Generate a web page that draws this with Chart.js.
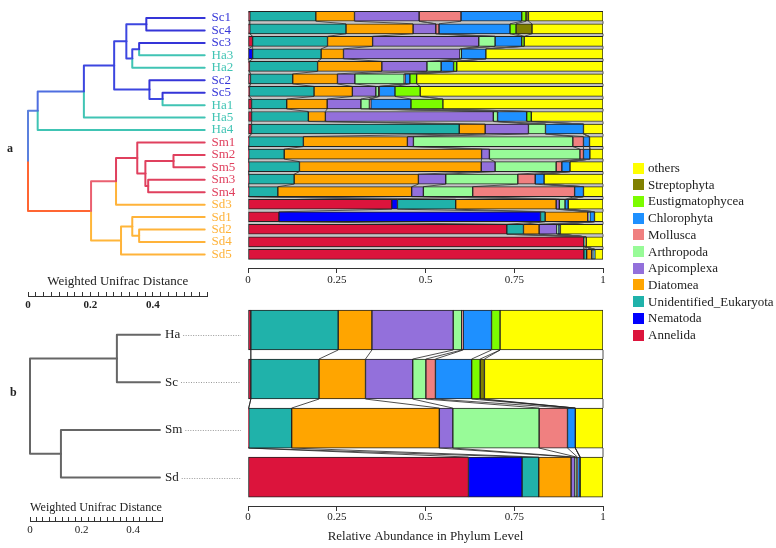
<!DOCTYPE html>
<html><head><meta charset="utf-8">
<script src="https://cdn.jsdelivr.net/npm/chart.js@4"></script>
<style>
html,body{margin:0;padding:0;background:#fff;}
body{width:776px;height:548px;position:relative;overflow:hidden;font-family:'Liberation Serif','Times New Roman',serif;color:#222;}
canvas{position:absolute;}
.lab{position:absolute;font-weight:bold;font-size:12px;}
#legend{position:absolute;left:633px;top:0;}
.li{position:absolute;left:0;height:16px;line-height:16px;white-space:nowrap;font-size:13px;color:#222;}
.sw{position:absolute;left:0;top:2.5px;width:11px;height:11px;}
.lt{position:absolute;left:15px;top:0;}
</style></head><body>
<canvas id="dendA" width="245" height="320" style="left:0;top:0"></canvas>
<canvas id="barA" width="380" height="300" style="left:238px;top:0"></canvas>
<canvas id="dendB" width="245" height="248" style="left:0;top:300px"></canvas>
<canvas id="barB" width="380" height="248" style="left:238px;top:300px"></canvas>
<div class="lab" style="left:7px;top:141px">a</div>
<div class="lab" style="left:10px;top:385px">b</div>
<div id="legend"></div>
<script>
// ---------- data ----------
const phyla = ['Annelida','Nematoda','Unidentified_Eukaryota','Diatomea','Apicomplexa','Arthropoda','Mollusca','Chlorophyta','Eustigmatophycea','Streptophyta','others'];
const phylumColors = ['#dc143c','#0000ff','#20b2aa','#ffa500','#9370db','#98fb98','#f08080','#1e90ff','#7cfc00','#808000','#ffff00'];

const samples = ['Sc1','Sc4','Sc3','Ha3','Ha2','Sc2','Sc5','Ha1','Ha5','Ha4','Sm1','Sm2','Sm5','Sm3','Sm4','Sd3','Sd1','Sd2','Sd4','Sd5'];
const sAnnelida   = [.005,.005,.013,0,.004,.007,.004,.01,.01,.01,.002,.002,.002,.002,.002,.405,.087,.729,.946,.946];
const sNematoda   = [0,0,0,.013,0,0,0,0,0,0,0,0,0,0,0,.016,.737,0,0,0];
const sUnidEuk    = [.186,.271,.211,.193,.192,.119,.182,.099,.16,.585,.154,.1,.143,.128,.082,.164,.013,.047,.003,.008];
const sDiatomea   = [.109,.189,.127,.063,.181,.126,.108,.114,.048,.073,.293,.556,.512,.35,.377,.283,.12,.044,.002,.014];
const sApicomplexa= [.182,.064,.299,.328,.127,.049,.066,.095,.473,.122,.017,.022,.039,.077,.033,.009,.003,.05,0,.002];
const sArthropoda = [0,0,.046,.004,.04,.139,.008,.024,.012,.048,.449,.255,.172,.203,.139,.016,.003,.004,0,.004];
const sMollusca   = [.118,.009,0,0,0,.002,.002,.004,0,0,.03,.01,.016,.049,.287,0,0,0,0,0];
const sChlorophyta= [.171,.2,.075,.069,.035,.014,.044,.113,.082,.107,.017,.018,.023,.025,.025,.009,.013,.004,0,.003];
const sEustig     = [.012,.017,.007,0,.009,.019,.071,.09,.013,0,0,0,0,0,0,0,0,0,0,0];
const sStrepto    = [.007,.045,0,0,0,0,0,0,0,0,0,0,0,0,0,0,0,.002,.002,0];
const sOthers     = [.21,.2,.222,.33,.412,.525,.515,.451,.202,.055,.038,.037,.093,.166,.055,.098,.024,.12,.047,.023];

const groups = ['Ha','Sc','Sm','Sd'];
const gAnnelida   = [.008,.008,.002,.621];
const gNematoda   = [0,0,0,.151];
const gUnidEuk    = [.246,.192,.121,.047];
const gDiatomea   = [.095,.131,.416,.091];
const gApicomplexa= [.229,.133,.038,.011];
const gArthropoda = [.024,.037,.243,.005];
const gMollusca   = [.004,.027,.08,.002];
const gChlorophyta= [.08,.102,.022,.007];
const gEustig     = [.024,.024,0,0];
const gStrepto    = [0,.012,0,.001];
const gOthers     = [.29,.334,.078,.064];

const abundTicks = [0, 0.25, 0.5, 0.75, 1];
const distLabelsA = [0, 0.2, 0.4];

// dendrogram merges: [childA, childB, node distance from root]
const treeALeafDepth = 0.566;
const treeAMerges = [
  ['Sc1','Sc4',0.379], ['Sc3','Ha3',0.356], ['m1','Ha2',0.334], ['m0','m2',0.315],
  ['Sc5','Ha1',0.431], ['Sc2','m4',0.389], ['m3','m5',0.276], ['m6','Ha5',0.179],
  ['m7','Ha4',0.031], ['Sm2','Sm5',0.466], ['Sm3','Sm4',0.385], ['m9','m10',0.376],
  ['Sm1','m11',0.35], ['m12','Sd3',0.282], ['Sd2','Sd4',0.356], ['Sd1','m14',0.334],
  ['m15','Sd5',0.298], ['m13','m16',0.202], ['m8','m17',0]
];
const treeAEdgeColors = {m0:'#3c46e0',m1:'#3c46e0',m2:'#3c46e0',m3:'#3c46e0',m4:'#3c46e0',m5:'#3c46e0',m6:'#3c46e0',
  m7:'#4f6ee0',m8:'#5b80dd',m9:'#e0405e',m10:'#e0405e',m11:'#e0405e',m12:'#e0405e',m13:'#ea6070',
  m14:'#ffb63a',m15:'#ffb63a',m16:'#ffb63a',m17:'#ff6633'};
const groupColors = {Sc:'#3535d8', Ha:'#40c4b4', Sm:'#e0405e', Sd:'#ffb33a'};

const treeBLeafDepth = 0.504;
const treeBMerges = [['Ha','Sc',0.337], ['Sm','Sd',0.12], ['m0','m1',0]];

// ---------- helpers ----------
Chart.defaults.font.family = "'Liberation Serif','Times New Roman',serif";
Chart.defaults.color = '#222';

function treeDatasets(leaves, merges, leafDepth, colorOf) {
  const nodes = {};
  leaves.forEach((n, i) => nodes[n] = {x: leafDepth, y: i});
  merges.forEach((m, k) => {
    const a = nodes[m[0]], b = nodes[m[1]];
    nodes['m' + k] = {x: m[2], y: (a.y + b.y) / 2};
  });
  const ds = [];
  merges.forEach((m, k) => {
    const p = nodes['m' + k];
    [m[0], m[1]].forEach(c => {
      const ch = nodes[c];
      ds.push({
        data: [{x: p.x, y: p.y}, {x: p.x, y: ch.y}, {x: ch.x, y: ch.y}],
        borderColor: colorOf(c), showLine: true, pointRadius: 0,
        borderWidth: 2, borderJoinStyle: 'round', borderCapStyle: 'round', fill: false, clip: false
      });
    });
  });
  return ds;
}

function barDatasets(series) {
  return series.map((vals, k) => ({
    label: phyla[k],
    data: vals.map((v, i) => ({x: v, y: i})),
    backgroundColor: phylumColors[k],
    borderColor: '#222', borderWidth: 1, borderSkipped: false, stack: 's'
  }));
}

const connectorPlugin = {
  id: 'connectors',
  beforeDatasetsDraw(chart, args, opts) {
    const metas = chart.getSortedVisibleDatasetMetas();
    if (!metas.length) return;
    const n = metas[0].data.length;
    const xs = chart.scales.x;
    const ctx = chart.ctx;
    ctx.save();
    for (let i = 0; i < n - 1; i++) {
      const a = metas[0].data[i], b = metas[0].data[i + 1];
      const y1 = a.y + a.height / 2, y2 = b.y - b.height / 2;
      if (opts.fill) {
        ctx.fillStyle = opts.fill;
        ctx.fillRect(xs.getPixelForValue(0), y1, xs.getPixelForValue(1) - xs.getPixelForValue(0), y2 - y1);
      }
      ctx.strokeStyle = opts.color; ctx.lineWidth = opts.width;
      ctx.beginPath();
      metas.forEach(m => {
        ctx.moveTo(m.data[i].x, y1); ctx.lineTo(m.data[i + 1].x, y2);
      });
      ctx.stroke();
    }
    ctx.restore();
  }
};

const leaderPlugin = {
  id: 'leaders',
  afterDraw(chart) {
    const ys = chart.scales.y, ctx = chart.ctx;
    ctx.save();
    ctx.font = "13px 'Liberation Serif'";
    ctx.strokeStyle = '#9a9a9a'; ctx.lineWidth = 1; ctx.setLineDash([1, 1.5]);
    ys.ticks.forEach((t, i) => {
      const y = Math.round(ys.getPixelForValue(t.value)) + 0.5;
      const x0 = chart.chartArea.right + 3 + ctx.measureText(groups[i]).width + 3;
      ctx.beginPath(); ctx.moveTo(x0, y); ctx.lineTo(chart.width - 4, y); ctx.stroke();
    });
    ctx.restore();
  }
};

function rulerScale(max, labels, bold, height) {
  return {
    type: 'linear', position: 'bottom', min: 0, max: max, weight: 1,
    grid: {display: true, drawOnChartArea: false, drawTicks: true, tickLength: -4, color: '#333', lineWidth: 1},
    border: {display: true, color: '#333', width: 1},
    ticks: {stepSize: 0.025, autoSkip: false, maxRotation: 0, padding: 6.4,
      font: {size: 11, weight: bold ? 'bold' : 'normal'}, color: '#222',
      callback: v => { const r = Math.round(v * 1000); return labels.some(l => Math.round(l * 1000) === r) ? String(+v.toFixed(1)) : ''; }},
    afterFit(s) { s.height = height; }
  };
}
function titleScale(max, height, pb) {
  return {
    type: 'linear', axis: 'x', position: 'bottom', min: 0, max: max, weight: 0,
    grid: {display: false, drawTicks: false}, border: {display: false}, ticks: {display: false},
    title: {display: true, text: 'Weighted Unifrac Distance', font: {size: 13}, color: '#222', padding: {top: 0, bottom: pb}},
    afterFit(s) { s.height = height; }
  };
}

// ---------- dendrogram a ----------
const leafColor = n => groupColors[n.slice(0, 2)];
new Chart(document.getElementById('dendA'), {
  type: 'scatter',
  data: {datasets: treeDatasets(samples, treeAMerges, treeALeafDepth, c => treeAEdgeColors[c] || leafColor(c))},
  options: {
    responsive: false, animation: false, events: [],
    layout: {padding: {left: 28, right: 0, top: 10, bottom: 0}},
    plugins: {legend: {display: false}, tooltip: {enabled: false}},
    scales: {
      x: rulerScale(0.575, distLabelsA, true, 24),
      xt: titleScale(0.575, 26, 6.2),
      y: {type: 'linear', position: 'right', reverse: true, min: -0.5, max: 20.25, offset: false,
        grid: {display: false, drawTicks: false}, border: {display: false},
        afterBuildTicks(s) { s.ticks = samples.map((_, i) => ({value: i})); },
        ticks: {autoSkip: false, padding: 4, font: {size: 13},
          callback: (v, i) => samples[i], color: ctx => leafColor(samples[ctx.index])},
        afterFit(s) { s.width = 37.5; }}
    }
  }
});

// ---------- bars a ----------
new Chart(document.getElementById('barA'), {
  type: 'bar',
  data: {datasets: barDatasets([sAnnelida,sNematoda,sUnidEuk,sDiatomea,sApicomplexa,sArthropoda,sMollusca,sChlorophyta,sEustig,sStrepto,sOthers])},
  plugins: [connectorPlugin],
  options: {
    indexAxis: 'y', responsive: false, animation: false, events: [],
    layout: {padding: {left: 10, right: 15, top: 10, bottom: 0}},
    datasets: {bar: {barThickness: 10}},
    plugins: {legend: {display: false}, tooltip: {enabled: false},
      connectors: {fill: '#c4c4c4', color: '#505050', width: 1}},
    scales: {
      x: {type: 'linear', stacked: true, min: 0, max: 1, offset: false,
        afterBuildTicks(s) { s.ticks = abundTicks.map(v => ({value: v})); },
        grid: {display: true, drawOnChartArea: false, tickLength: 5, color: '#333', offset: false},
        border: {display: true, color: '#333', width: 1},
        ticks: {padding: 0.4, font: {size: 11}, color: '#222', maxRotation: 0, callback: v => String(v)},
        afterFit(s) { s.height = 32; }},
      y: {type: 'linear', display: false, reverse: true, min: -0.5, max: 20.09, offset: false, grid: {offset: false}}
    }
  }
});

// ---------- dendrogram b ----------
new Chart(document.getElementById('dendB'), {
  type: 'scatter',
  data: {datasets: treeDatasets(groups, treeBMerges, treeBLeafDepth, () => '#666666')},
  plugins: [leaderPlugin],
  options: {
    responsive: false, animation: false, events: [],
    layout: {padding: {left: 30, right: 0, top: 5.5, bottom: 0}},
    plugins: {legend: {display: false}, tooltip: {enabled: false}},
    scales: {
      x: rulerScale(0.512, distLabelsA, false, 27),
      xt: titleScale(0.512, 22, 5.2),
      y: {type: 'linear', position: 'right', reverse: true, min: -0.5, max: 3.449, offset: false,
        grid: {display: false, drawTicks: false}, border: {display: false},
        afterBuildTicks(s) { s.ticks = groups.map((_, i) => ({value: i})); },
        ticks: {autoSkip: false, padding: 3, font: {size: 13}, color: '#222', callback: (v, i) => groups[i]},
        afterFit(s) { s.width = 83; }}
    }
  }
});

// ---------- bars b ----------
new Chart(document.getElementById('barB'), {
  type: 'bar',
  data: {datasets: barDatasets([gAnnelida,gNematoda,gUnidEuk,gDiatomea,gApicomplexa,gArthropoda,gMollusca,gChlorophyta,gEustig,gStrepto,gOthers])},
  plugins: [connectorPlugin],
  options: {
    indexAxis: 'y', responsive: false, animation: false, events: [],
    layout: {padding: {left: 10, right: 15, top: 5.5, bottom: 0}},
    datasets: {bar: {barThickness: 40}},
    plugins: {legend: {display: false}, tooltip: {enabled: false},
      connectors: {fill: null, color: '#222', width: 0.8}},
    scales: {
      x: {type: 'linear', stacked: true, min: 0, max: 1, offset: false,
        afterBuildTicks(s) { s.ticks = abundTicks.map(v => ({value: v})); },
        grid: {display: true, drawOnChartArea: false, tickLength: 5, color: '#333', offset: false},
        border: {display: true, color: '#333', width: 1},
        ticks: {padding: 0, font: {size: 11}, color: '#222', maxRotation: 0, callback: v => String(v)},
        title: {display: true, text: 'Relative Abundance in Phylum Level', font: {size: 13}, color: '#222', padding: {top: 0, bottom: 4}},
        afterFit(s) { s.height = 42; }},
      y: {type: 'linear', display: false, reverse: true, min: -0.5, max: 3.59, offset: false, grid: {offset: false}}
    }
  }
});

// ---------- legend ----------
const legend = document.getElementById('legend');
phyla.slice().reverse().forEach((name, j) => {
  const k = phyla.length - 1 - j;
  const d = document.createElement('div');
  d.className = 'li';
  d.style.top = (160 + j * 16.7) + 'px';
  d.innerHTML = '<span class="sw" style="background:' + phylumColors[k] + '"></span><span class="lt">' + name + '</span>';
  legend.appendChild(d);
});
</script>
</body></html>
